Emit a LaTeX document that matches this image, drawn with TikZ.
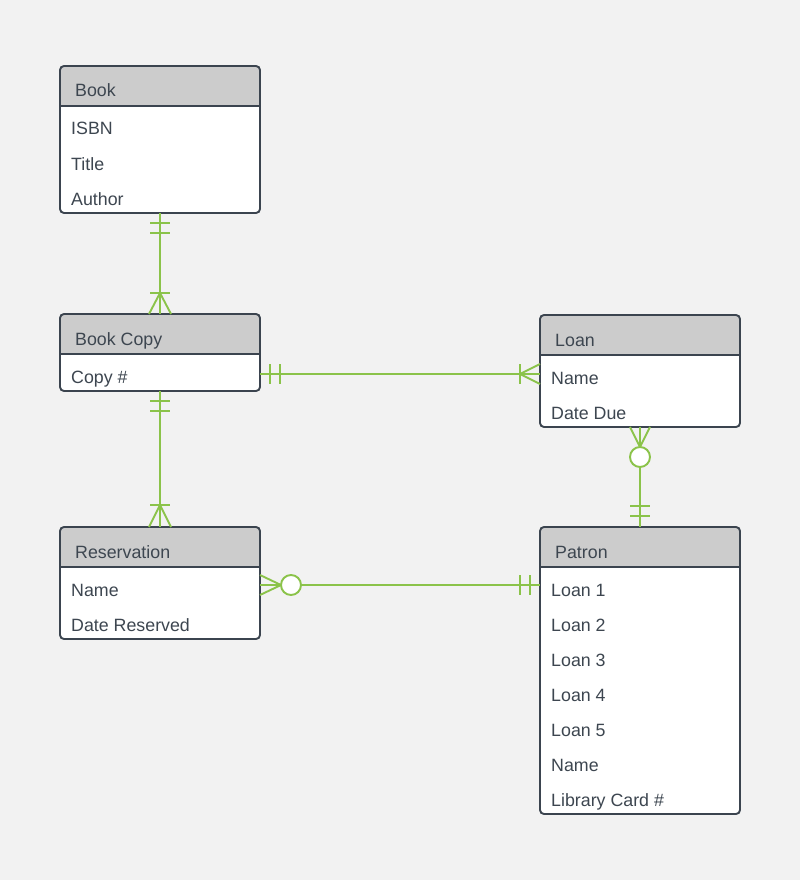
\documentclass[tikz,border=0pt]{standalone}
\usepackage{fontspec}
\setmainfont{Liberation Sans}
\usetikzlibrary{calc}

\definecolor{canvas}{RGB}{242,242,242}
\definecolor{headgray}{RGB}{204,204,204}
\definecolor{edgec}{RGB}{59,68,79}
\definecolor{ink}{RGB}{61,70,80}
\definecolor{relgreen}{RGB}{139,195,74}

\tikzset{
  ebox/.style={draw=edgec, line width=1.9pt, rounded corners=4pt,
    minimum width=200pt, inner sep=0pt, outer sep=0pt, anchor=north west},
  etitle/.style={anchor=base west, inner sep=0pt, text=ink,
    font=\fontsize{17.8}{21}\selectfont},
  efield/.style={etitle},
  rel/.style={draw=relgreen, line width=1.9pt},
  optcircle/.style={rel, fill=white},
}

% entity table: name, left x, top y, number of fields, title, fields
\newcommand\erentity[6]{%
  \pgfmathsetmacro\eh{42+35*#4}
  \fill[white, rounded corners=4pt] (#2,#3) rectangle ++(200,\eh);
  \begin{scope}
    \clip[rounded corners=4pt] (#2,#3) rectangle ++(200,\eh);
    \fill[headgray] (#2,#3) rectangle ++(200,40);
  \end{scope}
  \draw[edgec, line width=1.9pt] (#2,#3+40) -- ++(200,0);
  \node[ebox, minimum height=\eh pt] (#1) at (#2,#3) {};
  \node[etitle] (#1-title) at (#2+15,#3+31) {#5};
  \foreach \f [count=\i] in {#6}
    \node[efield] (#1-f\i) at (#2+11,#3+34+35*\i) {\f};
}

\begin{document}
\begin{tikzpicture}[x=1pt, y=-1pt]
  \fill[canvas] (0,0) rectangle (800,880);
  \useasboundingbox (0,0) rectangle (800,880);

  \erentity{book}{60}{66}{3}{Book}{ISBN,Title,Author}
  \erentity{bookcopy}{60}{314}{1}{Book Copy}{Copy \#}
  \erentity{loan}{540}{315}{2}{Loan}{Name,Date Due}
  \erentity{reservation}{60}{527}{2}{Reservation}{Name,Date Reserved}
  \erentity{patron}{540}{527}{7}{Patron}{Loan 1,Loan 2,Loan 3,Loan 4,Loan 5,Name,Library Card \#}

  % Book (one and only one) -- Book Copy (one or many)
  \draw[rel] (book.south) -- (bookcopy.north);
  \draw[rel] ($(book.south)+(-10,10)$) -- ++(20,0);
  \draw[rel] ($(book.south)+(-10,20)$) -- ++(20,0);
  \draw[rel] ($(bookcopy.north)+(-10,-21)$) -- ++(20,0);
  \draw[rel] ($(bookcopy.north)+(-11,0)$) -- ($(bookcopy.north)+(0,-21)$) -- ($(bookcopy.north)+(11,0)$);

  % Book Copy (one and only one) -- Loan (one or many)
  \coordinate (bcr) at ($(bookcopy.north east)+(0,60)$);
  \coordinate (lnl) at (loan.west |- bcr);
  \draw[rel] (bcr) -- (lnl);
  \draw[rel] ($(bcr)+(10,-10)$) -- ++(0,20);
  \draw[rel] ($(bcr)+(20,-10)$) -- ++(0,20);
  \draw[rel] ($(lnl)+(-20,-10)$) -- ++(0,20);
  \draw[rel] ($(lnl)+(0,-10)$) -- ($(lnl)+(-20,0)$) -- ($(lnl)+(0,10)$);

  % Book Copy (one and only one) -- Reservation (one or many)
  \draw[rel] (bookcopy.south) -- (reservation.north);
  \draw[rel] ($(bookcopy.south)+(-10,10)$) -- ++(20,0);
  \draw[rel] ($(bookcopy.south)+(-10,20)$) -- ++(20,0);
  \draw[rel] ($(reservation.north)+(-10,-22)$) -- ++(20,0);
  \draw[rel] ($(reservation.north)+(-11,0)$) -- ($(reservation.north)+(0,-22)$) -- ($(reservation.north)+(11,0)$);

  % Loan (zero or many) -- Patron (one and only one)
  \draw[rel] (loan.south) -- (patron.north);
  \draw[rel] ($(loan.south)+(-10,0)$) -- ($(loan.south)+(0,20)$) -- ($(loan.south)+(10,0)$);
  \draw[optcircle] ($(loan.south)+(0,30)$) circle[radius=10];
  \draw[rel] ($(patron.north)+(-10,-11)$) -- ++(20,0);
  \draw[rel] ($(patron.north)+(-10,-21)$) -- ++(20,0);

  % Reservation (zero or many) -- Patron (one and only one)
  \coordinate (rsr) at ($(reservation.north east)+(0,58)$);
  \coordinate (ptl) at (patron.west |- rsr);
  \draw[rel] (rsr) -- (ptl);
  \draw[rel] ($(rsr)+(0,-10)$) -- ($(rsr)+(21,0)$) -- ($(rsr)+(0,10)$);
  \draw[optcircle] ($(rsr)+(31,0)$) circle[radius=10];
  \draw[rel] ($(ptl)+(-20,-10)$) -- ++(0,20);
  \draw[rel] ($(ptl)+(-10,-10)$) -- ++(0,20);
\end{tikzpicture}
\end{document}
